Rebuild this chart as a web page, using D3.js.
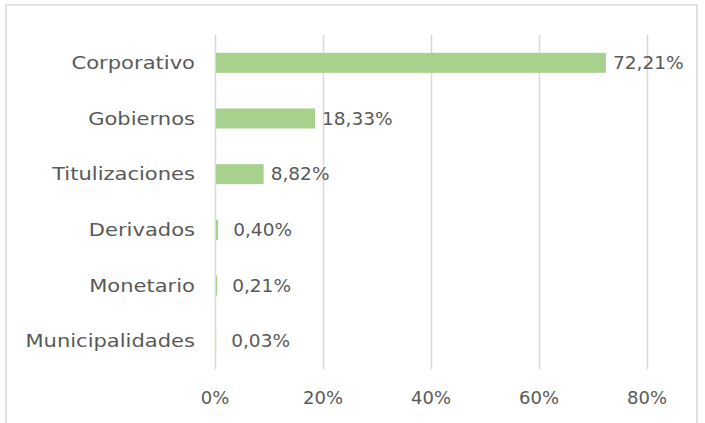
<!DOCTYPE html>
<html>
<head>
<meta charset="utf-8">
<script src="https://cdn.jsdelivr.net/npm/d3@7"></script>
<style>
  html, body { margin: 0; padding: 0; background: #fff; }
  svg { display: block; }
  text { font-family: "DejaVu Sans", sans-serif; fill: #595959; }
</style>
</head>
<body>
<svg id="chart" width="705" height="423"></svg>
<script>
const categories = ["Corporativo", "Gobiernos", "Titulizaciones", "Derivados", "Monetario", "Municipalidades"];
const values = [72.21, 18.33, 8.82, 0.40, 0.21, 0.03];
const valueLabels = ["72,21%", "18,33%", "8,82%", "0,40%", "0,21%", "0,03%"];
const xTicks = [0, 20, 40, 60, 80];
const xTickLabels = ["0%", "20%", "40%", "60%", "80%"];

const svg = d3.select("#chart");

svg.append("rect")
  .attr("x", 6).attr("y", 5)
  .attr("width", 691).attr("height", 430)
  .attr("fill", "#fff")
  .attr("stroke", "#d9d9d9").attr("stroke-width", 1.5);

const plot = { left: 215, right: 647, top: 35, bottom: 369 };

const x = d3.scaleLinear().domain([0, 80]).range([plot.left, plot.right]);
const y = d3.scaleBand().domain(categories).range([plot.top, plot.bottom]).paddingInner(0.64).paddingOuter(0.32);

svg.append("g").selectAll("line").data(xTicks).join("line")
  .attr("x1", d => Math.round(x(d)) + 0.5).attr("x2", d => Math.round(x(d)) + 0.5)
  .attr("y1", plot.top).attr("y2", plot.bottom)
  .attr("stroke", "#d9d9d9").attr("stroke-width", 1.5);

svg.append("g").selectAll("rect").data(categories).join("rect")
  .attr("x", x(0) + 1)
  .attr("y", d => y(d))
  .attr("width", (d, i) => Math.max(0, x(values[i]) - x(0)))
  .attr("height", y.bandwidth())
  .attr("fill", "#a9d18e");

const fs = 18;

svg.append("g").selectAll("text").data(categories).join("text")
  .attr("transform", (d, i) => `translate(${x(values[i]) + 8 + (values[i] < 1 ? 8 : 0)},${y(d) + y.bandwidth() / 2}) scale(1.03,1)`)
  .attr("dy", "0.35em")
  .attr("font-size", fs)
  .text((d, i) => valueLabels[i]);

svg.append("g").selectAll("text").data(categories).join("text")
  .attr("transform", d => `translate(195,${y(d) + y.bandwidth() / 2}) scale(1.17,1)`)
  .attr("dy", "0.35em")
  .attr("text-anchor", "end")
  .attr("font-size", fs)
  .text(d => d);

svg.append("g").selectAll("text").data(xTicks).join("text")
  .attr("x", d => x(d))
  .attr("y", 398)
  .attr("dy", "0.35em")
  .attr("text-anchor", "middle")
  .attr("font-size", fs)
  .text((d, i) => xTickLabels[i]);
</script>
</body>
</html>
